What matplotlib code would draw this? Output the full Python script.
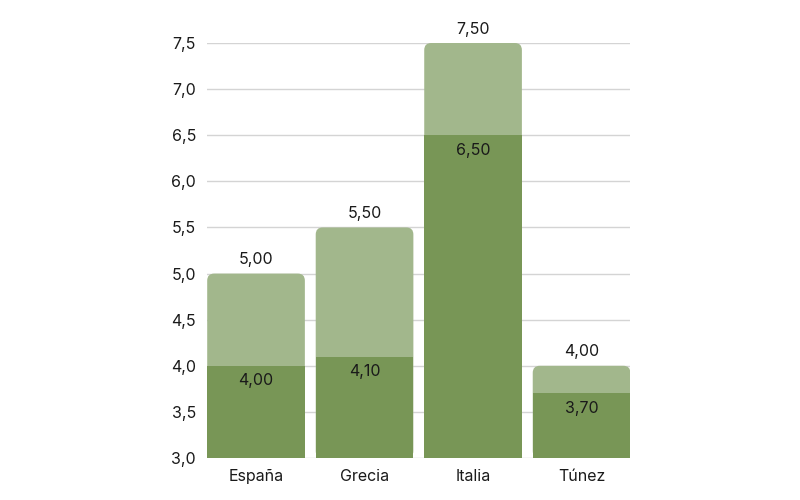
import matplotlib.pyplot as plt
from matplotlib.patches import FancyBboxPatch
import numpy as np

plt.rcParams['font.family'] = ['Inter', 'DejaVu Sans']

countries = ['España', 'Grecia', 'Italia', 'Túnez']
lower_values = [4.00, 4.10, 6.50, 3.70]
total_values = [5.00, 5.50, 7.50, 4.00]
y_ticks = [3.0, 3.5, 4.0, 4.5, 5.0, 5.5, 6.0, 6.5, 7.0, 7.5]

dark_green = '#789656'
light_green = '#a2b78c'
base = 3.0
width = 0.9


def fmt(v, digits=2):
    return f'{v:.{digits}f}'.replace('.', ',')


fig = plt.figure(figsize=(8, 5), dpi=100)
ax = fig.add_axes([0.259, 0.084, 0.529, 0.83])

x = np.arange(len(countries))

# light (total) bars with rounded tops; bottom corners hidden by dark bars
for xi, tot in zip(x, total_values):
    box = FancyBboxPatch((xi - width / 2, base), width, tot - base,
                         boxstyle='round,pad=0,rounding_size=0.065',
                         mutation_aspect=1.18, facecolor=light_green,
                         edgecolor='none', zorder=2)
    ax.add_patch(box)

ax.bar(x, np.array(lower_values) - base, bottom=base, width=width,
       color=dark_green, zorder=3)

for xi, low, tot in zip(x, lower_values, total_values):
    ax.text(xi, tot + 0.07, fmt(tot), ha='center', va='bottom', fontsize=11.5,
            color='#1a1a1a', zorder=4)
    ax.text(xi, low - 0.08, fmt(low), ha='center', va='top', fontsize=11.5,
            color='#1a1a1a', zorder=4)

ax.set_xlim(-0.45, 3.45)
ax.set_ylim(3.0, 7.5)
ax.set_yticks(y_ticks)
ax.set_yticklabels([fmt(t, 1) for t in y_ticks])
ax.set_xticks(x)
ax.set_xticklabels(countries)
ax.tick_params(length=0, labelsize=11.5, colors='#1a1a1a')
ax.tick_params(axis='y', pad=8)
ax.tick_params(axis='x', pad=8)
ax.grid(axis='y', color='#d4d4d4', linewidth=1, zorder=0)
ax.set_axisbelow(True)
for s in ax.spines.values():
    s.set_visible(False)

fig.savefig('out.png', dpi=100)
